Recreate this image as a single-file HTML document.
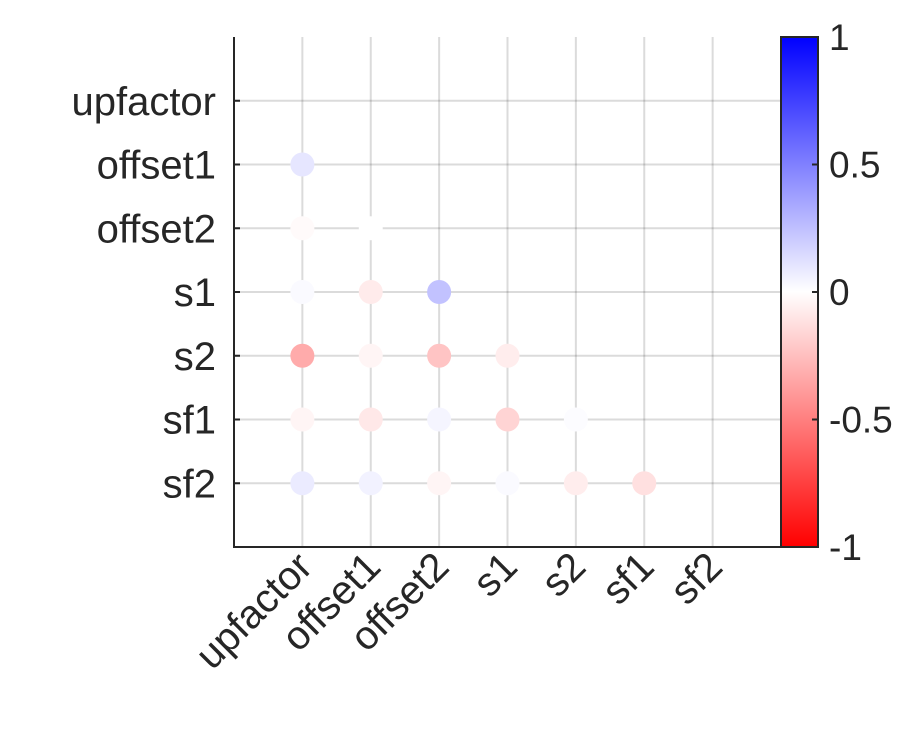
<!DOCTYPE html>
<html><head><meta charset="utf-8"><style>
body{margin:0;background:#fff;}
svg text{font-family:"Liberation Sans",Arial,sans-serif;font-size:40px;fill:#262626;}
svg .cbl{font-size:37px;}
</style></head><body>
<svg id="chart" width="906" height="734">
<defs><linearGradient id="cb" x1="0" y1="0" x2="0" y2="1">
<stop offset="0" stop-color="#0000ff"/><stop offset="0.5" stop-color="#ffffff"/><stop offset="1" stop-color="#ff0000"/>
</linearGradient></defs>
<g id="grid"></g>
<g id="marks"></g>
<g id="axes"></g>
<rect x="781" y="37" width="37" height="510" fill="url(#cb)" stroke="#262626" stroke-width="2"/>
<g id="cbticks"></g>
</svg>
<script>
const labels=["upfactor","offset1","offset2","s1","s2","sf1","sf2"];
const rowOffset1=[0.1];
const rowOffset2=[-0.02,0.0];
const rowS1=[0.02,-0.08,0.24];
const rowS2=[-0.33,-0.04,-0.23,-0.07];
const rowSf1=[-0.04,-0.09,0.04,-0.17,0.01];
const rowSf2=[0.08,0.05,-0.04,0.02,-0.07,-0.12];
const cbTicks=[1,0.5,0,-0.5,-1];
const rows=[[],rowOffset1,rowOffset2,rowS1,rowS2,rowSf1,rowSf2];
const NS="http://www.w3.org/2000/svg";
const L=234,R=781,T=37,B=547;
const xs=i=>L+(i+1)*(R-L)/8;
const ys=i=>T+(i+1)*(B-T)/8;
const cy=v=>T+(1-v)/2*(B-T);
function mk(tag,attrs,parent){const e=document.createElementNS(NS,tag);for(const k in attrs)e.setAttribute(k,attrs[k]);document.getElementById(parent).appendChild(e);return e;}
function col(v){const c=Math.round(255*(1-Math.abs(v)));return v>=0?`rgb(${c},${c},255)`:`rgb(255,${c},${c})`;}
for(let i=0;i<7;i++){
  let g=mk('line',{x1:xs(i),x2:xs(i),y1:T,y2:B,stroke:'rgba(0,0,0,0.14)','stroke-width':2},'grid');
  
  
  g=mk('line',{x1:L,x2:R,y1:ys(i),y2:ys(i),stroke:'rgba(0,0,0,0.14)','stroke-width':2},'grid');
  
  
  let t=mk('text',{x:216,y:ys(i)+14,'text-anchor':'end'},'axes');t.textContent=labels[i];
  
  
  t=mk('text',{transform:`translate(${xs(i)+12},${B+22}) rotate(-45)`,'text-anchor':'end'},'axes');t.textContent=labels[i];
  
  
  let tk=mk('line',{x1:L,x2:L+6,y1:ys(i),y2:ys(i),stroke:'#262626','stroke-width':2},'axes');
  
  
}
rows.forEach((r,i)=>r.forEach((v,j)=>{
  const c=mk('circle',{cx:xs(j),cy:ys(i),r:12,fill:col(v)},'marks');
  
  
}));
let a=mk('path',{d:`M${L},${T}V${B}H${R}`,fill:'none',stroke:'#262626','stroke-width':2},'axes');


cbTicks.forEach(v=>{
  const y=cy(v);
  let l=mk('line',{x1:812,x2:818,y1:y,y2:y,stroke:'#262626','stroke-width':2},'cbticks');
  
  
  let t=mk('text',{x:829,y:y+13,'class':'cbl'},'cbticks');t.textContent=String(v);
  
  
});
</script>
</body></html>
